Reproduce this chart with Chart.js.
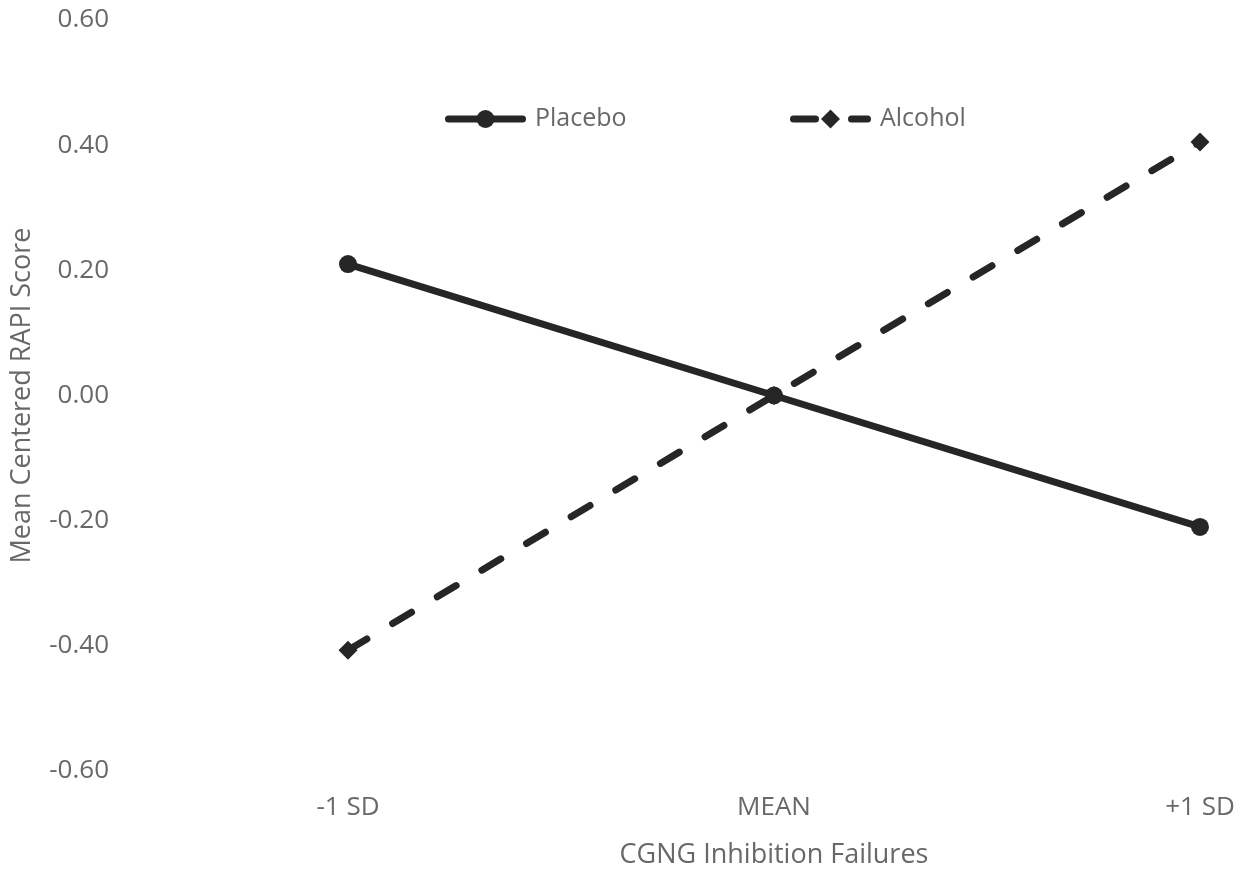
<!DOCTYPE html>
<html><head><meta charset="utf-8">
<script src="https://cdn.jsdelivr.net/npm/chart.js@4/dist/chart.umd.min.js"></script>
<style>html,body{margin:0;padding:0;background:#fff;} #wrap{width:1254px;height:876px;position:relative}</style>
</head><body><div id="wrap"><canvas id="c" width="1254" height="876"></canvas></div>
<script>
const categories = ['-1 SD', 'MEAN', '+1 SD'];
const seriesNames = ['Placebo', 'Alcohol'];
const placebo = [0.21, 0.00, -0.21];
const alcohol = [-0.407, 0.00, 0.405];
const yTicks = [-0.60, -0.40, -0.20, 0.00, 0.20, 0.40, 0.60];
const xTitle = 'CGNG Inhibition Failures';
const yTitle = 'Mean Centered RAPI Score';

const FONT = "'Open Sans', 'DejaVu Sans', sans-serif";
const TEXT = '#686868';
const LINE = '#262626';

const legendPlugin = {
  id: 'lineLegend',
  afterDatasetsDraw(chart) {
    const ctx = chart.ctx, ca = chart.chartArea;
    const y = ca.top + 99;
    const starts = [ca.left + 97, ca.left + 442];
    chart.data.datasets.forEach((ds, i) => {
      const x0 = starts[i], len = 81, x1 = x0 + len, cx = x0 + len / 2;
      ctx.save();
      ctx.strokeStyle = ds.borderColor;
      ctx.lineWidth = ds.borderWidth;
      ctx.lineCap = 'round';
      ctx.setLineDash(ds.borderDash ? [22, 36] : []);
      ctx.beginPath(); ctx.moveTo(x0 + 3.5, y); ctx.lineTo(x1 - 3.5, y); ctx.stroke();
      ctx.setLineDash([]);
      ctx.fillStyle = ds.pointBackgroundColor;
      ctx.beginPath();
      const r = ds.pointRadius;
      if (ds.pointStyle === 'rectRot') {
        ctx.moveTo(cx, y - r); ctx.lineTo(cx + r, y); ctx.lineTo(cx, y + r); ctx.lineTo(cx - r, y); ctx.closePath();
      } else {
        ctx.arc(cx, y, r, 0, Math.PI * 2);
      }
      ctx.fill();
      ctx.font = '25px ' + FONT;
      ctx.fillStyle = TEXT;
      ctx.textBaseline = 'middle';
      ctx.textAlign = 'left';
      ctx.fillText(ds.label, x1 + 9, y);
      ctx.restore();
    });
  }
};

new Chart(document.getElementById('c'), {
  type: 'line',
  data: {
    labels: categories,
    datasets: [
      { label: seriesNames[0], data: placebo, borderColor: LINE, backgroundColor: LINE,
        borderWidth: 7, pointStyle: 'circle', pointRadius: 9, pointBackgroundColor: LINE,
        pointBorderColor: LINE, pointBorderWidth: 0, tension: 0, borderCapStyle: 'round' },
      { label: seriesNames[1], data: alcohol, borderColor: LINE, backgroundColor: LINE,
        borderWidth: 7, borderDash: [22, 30], borderCapStyle: 'round', pointStyle: 'rectRot', pointRadius: 9.5,
        pointBackgroundColor: LINE, pointBorderColor: LINE, pointBorderWidth: 0, tension: 0 }
    ]
  },
  options: {
    responsive: false,
    animation: false,
    layout: { padding: { top: 20, left: 0, right: 54, bottom: 0 } },
    plugins: { legend: { display: false }, tooltip: { enabled: false } },
    scales: {
      x: {
        offset: false,
        grid: { display: false, drawTicks: false },
        border: { display: false },
        ticks: { color: TEXT, font: { family: FONT, size: 26 }, padding: 21.4, maxRotation: 0 },
        title: { display: true, text: xTitle, color: TEXT, font: { family: FONT, size: 27 }, padding: { top: 18, bottom: 4.8 } },
        afterFit: s => { s.height = 105; s.paddingLeft = 0; s.paddingRight = 0; }
      },
      y: {
        min: -0.6, max: 0.6,
        grid: { display: false, drawTicks: false },
        border: { display: false },
        afterBuildTicks: s => { s.ticks = yTicks.map(v => ({ value: v })); },
        ticks: { color: TEXT, font: { family: FONT, size: 26 }, padding: 239,
          callback: v => (Math.abs(v) < 1e-9 ? 0 : v).toFixed(2) },
        title: { display: true, text: yTitle, color: TEXT, font: { family: FONT, size: 27 }, padding: { top: 6, bottom: 4 } },
        afterFit: s => { s.width = 348; s.paddingTop = 0; s.paddingBottom = 0; }
      }
    }
  },
  plugins: [legendPlugin]
});
</script></body></html>
